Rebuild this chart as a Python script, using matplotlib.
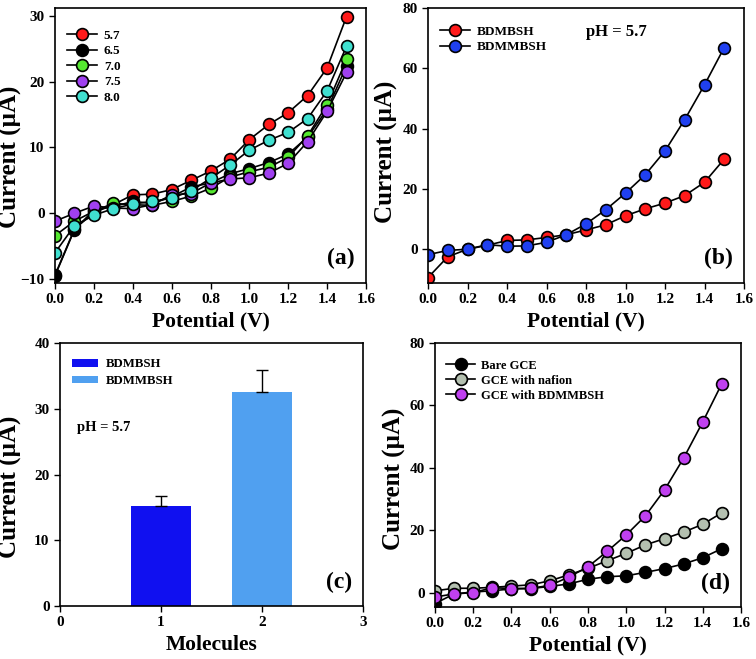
import matplotlib
matplotlib.use("Agg")
import matplotlib.pyplot as plt

plt.rcParams['font.family'] = ['Liberation Serif', 'DejaVu Serif']
plt.rcParams['font.weight'] = 'bold'
plt.rcParams['axes.labelweight'] = 'bold'

# potential (V)
potential = [0.0, 0.1, 0.2, 0.3, 0.4, 0.5, 0.6, 0.7, 0.8, 0.9, 1.0, 1.1, 1.2, 1.3, 1.4, 1.5]

# (a) current vs pH
ph_labels = ['5.7', '6.5', '7.0', '7.5', '8.0']
ph_57 = [-9.4, -2.4, 0.1, 1.3, 2.8, 2.9, 3.6, 5.0, 6.4, 8.2, 11.2, 13.5, 15.3, 17.9, 22.1, 29.9]
ph_65 = [-9.5, -2.5, 0.5, 1.0, 1.8, 1.5, 2.5, 4.0, 4.6, 6.0, 6.8, 7.7, 9.0, 11.6, 15.8, 22.4]
ph_70 = [-3.4, -1.2, 0.3, 1.5, 1.3, 1.2, 1.8, 2.6, 3.8, 5.5, 6.3, 7.0, 8.5, 11.8, 16.5, 23.4]
ph_75 = [-1.2, 0.0, 1.1, 0.8, 0.7, 1.3, 2.8, 3.0, 4.6, 5.2, 5.4, 6.1, 7.6, 10.9, 15.5, 21.4]
ph_80 = [-6.0, -1.9, -0.3, 0.7, 1.4, 1.8, 2.3, 3.4, 5.3, 7.3, 9.6, 11.1, 12.3, 14.4, 18.6, 25.4]

# (b) molecules at pH 5.7
bdmbsh = [-9.4, -2.5, 0.0, 1.3, 2.9, 3.1, 3.9, 4.8, 6.4, 8.1, 11.1, 13.4, 15.3, 17.8, 22.2, 29.9]
bdmmbsh = [-1.8, -0.4, 0.0, 1.5, 1.0, 1.1, 2.3, 4.8, 8.4, 13.1, 18.6, 24.7, 32.6, 43.0, 54.5, 66.9]

# (c) bar chart
molecules = [1, 2]
bar_labels = ['BDMBSH', 'BDMMBSH']
bar_values = [15.2, 32.6]
bar_errors = [1.6, 3.3]

# (d) electrodes
electrode_labels = ['Bare GCE', 'GCE with nafion', 'GCE with BDMMBSH']
bare_gce = [-3.5, -0.4, 0.2, 0.6, 1.2, 1.3, 2.0, 2.8, 4.3, 5.1, 5.4, 6.5, 7.7, 9.2, 11.2, 14.1]
gce_nafion = [0.6, 1.4, 1.4, 1.7, 2.1, 2.5, 3.8, 5.7, 7.8, 10.2, 12.6, 15.3, 17.3, 19.4, 21.9, 25.6]
gce_bdmmbsh = [-1.4, -0.4, 0.0, 1.6, 1.3, 1.4, 2.3, 5.0, 8.3, 13.2, 18.5, 24.6, 32.9, 43.1, 54.7, 67.0]

W, H = 756, 659
fig = plt.figure(figsize=(W / 100, H / 100), dpi=100)


def box(l, t, r, b):
    return [l / W, (H - b) / H, (r - l) / W, (b - t) / H]


def style(ax, ylab_x, ylab_y):
    ax.tick_params(direction='out', length=4, width=1, labelsize=11)
    for s in ax.spines.values():
        s.set_linewidth(1.2)
    for lab in ax.get_xticklabels() + ax.get_yticklabels():
        lab.set_fontweight('bold')
    ax.set_ylabel('Current (\u00b5A)', fontsize=18)
    ax.yaxis.set_label_coords(ylab_x, ylab_y)


mk = dict(marker='o', markersize=8.5, markeredgecolor='black', markeredgewidth=1.2,
          color='black', linewidth=1.2)
ticks_v = [0.0, 0.2, 0.4, 0.6, 0.8, 1.0, 1.2, 1.4, 1.6]

# ---- (a)
ax = fig.add_axes(box(55, 8, 366, 283))
ph_series = [ph_57, ph_65, ph_70, ph_75, ph_80]
ph_colors = ['#ff1a1a', '#000000', '#55e830', '#a040f0', '#40e0d0']
for ys, c, lab in zip(ph_series, ph_colors, ph_labels):
    ax.plot(potential, ys, markerfacecolor=c, label=lab, **mk)
ax.set_xlim(0, 1.6)
ax.set_ylim(-10.6, 31.2)
ax.set_xticks(ticks_v)
ax.set_yticks([-10, 0, 10, 20, 30])
ax.xaxis.set_major_formatter('{x:.1f}')
ax.set_xlabel('Potential (V)', fontsize=15.5, labelpad=4)
ax.legend(loc='upper left', bbox_to_anchor=(0.0, 0.965), frameon=False,
          handlelength=2.3, labelspacing=0.25, handletextpad=0.5, prop={'weight': 'bold', 'size': 9.5})
ax.text(0.965, 0.09, '(a)', transform=ax.transAxes, ha='right', va='center', fontsize=17, fontweight='bold')
style(ax, -0.106, 0.458)

# ---- (b)
ax = fig.add_axes(box(428, 8, 744, 283))
ax.plot(potential, bdmbsh, markerfacecolor='#ff1a1a', label='BDMBSH', **mk)
ax.plot(potential, bdmmbsh, markerfacecolor='#2040f0', label='BDMMBSH', **mk)
ax.set_xlim(0, 1.6)
ax.set_ylim(-11.2, 80)
ax.set_xticks(ticks_v)
ax.set_yticks([0, 20, 40, 60, 80])
ax.xaxis.set_major_formatter('{x:.1f}')
ax.set_xlabel('Potential (V)', fontsize=15.5, labelpad=4)
ax.legend(loc='upper left', bbox_to_anchor=(0.0, 0.98), frameon=False,
          handlelength=2.3, labelspacing=0.25, handletextpad=0.5, prop={'weight': 'bold', 'size': 9.5})
ax.text(0.5, 0.913, 'pH = 5.7', transform=ax.transAxes, ha='left', va='center', fontsize=12, fontweight='bold')
ax.text(0.965, 0.09, '(b)', transform=ax.transAxes, ha='right', va='center', fontsize=17, fontweight='bold')
style(ax, -0.095, 0.476)

# ---- (c)
ax = fig.add_axes(box(60, 343, 363, 606))
bar_colors = ['#1010f0', '#50a0f0']
for x, v, e, c, lab in zip(molecules, bar_values, bar_errors, bar_colors, bar_labels):
    ax.bar(x, v, width=0.6, color=c, label=lab)
    ax.errorbar(x, v, yerr=[[0], [e]], color='black', capsize=4, linewidth=1, capthick=1)
ax.set_xlim(0, 3)
ax.set_ylim(0, 40)
ax.set_xticks([0, 1, 2, 3])
ax.set_yticks([0, 10, 20, 30, 40])
ax.set_xlabel('Molecules', fontsize=15.5, labelpad=4)
ax.legend(loc='upper left', bbox_to_anchor=(0.0, 0.985), frameon=False,
          handlelength=2.1, handleheight=0.5, labelspacing=0.35, handletextpad=0.6,
          prop={'weight': 'bold', 'size': 9.2})
ax.text(0.056, 0.677, 'pH = 5.7', transform=ax.transAxes, ha='left', va='center', fontsize=10.5, fontweight='bold')
ax.text(0.965, 0.09, '(c)', transform=ax.transAxes, ha='right', va='center', fontsize=17, fontweight='bold')
style(ax, -0.125, 0.452)

# ---- (d)
ax = fig.add_axes(box(435, 343, 741, 607))
elec_series = [bare_gce, gce_nafion, gce_bdmmbsh]
elec_colors = ['#000000', '#b4c0b0', '#c040f0']
for ys, c, lab in zip(elec_series, elec_colors, electrode_labels):
    ax.plot(potential, ys, markerfacecolor=c, label=lab, **mk)
ax.set_xlim(0, 1.6)
ax.set_ylim(-4.6, 80)
ax.set_xticks(ticks_v)
ax.set_yticks([0, 20, 40, 60, 80])
ax.xaxis.set_major_formatter('{x:.1f}')
ax.set_xlabel('Potential (V)', fontsize=15.5, labelpad=4)
ax.legend(loc='upper left', bbox_to_anchor=(0.0, 0.98), frameon=False,
          handlelength=2.3, labelspacing=0.25, handletextpad=0.5, prop={'weight': 'bold', 'size': 9})
ax.text(0.965, 0.09, '(d)', transform=ax.transAxes, ha='right', va='center', fontsize=17, fontweight='bold')
style(ax, -0.095, 0.485)

fig.savefig('out.png', dpi=100)
